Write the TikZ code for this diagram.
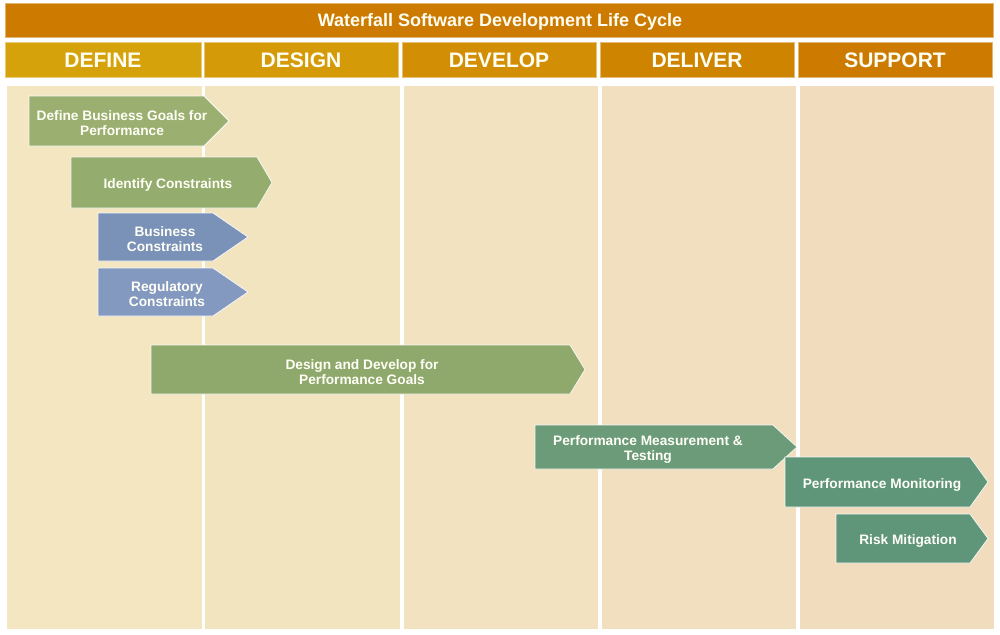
\documentclass[tikz,border=0pt]{standalone}
\usepackage{fontspec}
\setmainfont{Liberation Sans}
\definecolor{titleC}{HTML}{CC7A00}
\definecolor{hA}{HTML}{D5A20C}
\definecolor{hB}{HTML}{D49A08}
\definecolor{hC}{HTML}{D28E04}
\definecolor{hD}{HTML}{CF8400}
\definecolor{hE}{HTML}{CC7B00}
\definecolor{bA}{HTML}{F3E6C1}
\definecolor{bB}{HTML}{F3E4C0}
\definecolor{bC}{HTML}{F2E2BF}
\definecolor{bD}{HTML}{F2DFBF}
\definecolor{bE}{HTML}{F2DCBE}
\definecolor{gA}{HTML}{9AAF70}
\definecolor{gB}{HTML}{94AC6D}
\definecolor{blA}{HTML}{7A91B8}
\definecolor{blB}{HTML}{8399C0}
\definecolor{gC}{HTML}{8FA96C}
\definecolor{tA}{HTML}{6C9B79}
\definecolor{tB}{HTML}{5F9578}
\newcommand{\wfchev}[9]{%
  \fill[chevshape=#7] (#2,#3) -- (#4,#3) -- (#5,{(#3+#6)/2}) -- (#4,#6) -- (#2,#6) -- cycle;
  \node[chevtext] (#1) at (#9,{(#3+#6)/2}) {#8};
}
\begin{document}
\begin{tikzpicture}[x=1pt,y=-1pt,
  titlebar/.style={fill=titleC,draw=titleC!55!white,line width=0.8pt},
  colhead/.style={draw=#1!55!white,line width=0.8pt,fill=#1},
  colbody/.style={fill=#1},
  chevshape/.style={fill=#1,draw=white!92!#1,line width=0.8pt},
  chevtext/.style={text=white!97!yellow,font=\bfseries\fontsize{13.7}{15}\selectfont,align=center,inner sep=0pt,yshift=-2.5pt},
  headtext/.style={text=white!95!yellow,font=\bfseries\fontsize{21}{24}\selectfont,inner sep=0pt,yshift=-0.5pt},
  titletext/.style={text=white!95!yellow,font=\bfseries\fontsize{18}{20}\selectfont,inner sep=0pt,yshift=-2pt}]
\useasboundingbox[fill=white] (0,0) rectangle (1000,634);
% title
\draw[titlebar] (5,3) rectangle (993,37);
\node[titletext] (title) at (500,20) {Waterfall Software Development Life Cycle};
% column headers
\draw[colhead=hA] (5,42) rectangle (201,77);
\draw[colhead=hB] (204,42) rectangle (398,77);
\draw[colhead=hC] (402,42) rectangle (596,77);
\draw[colhead=hD] (600,42) rectangle (794,77);
\draw[colhead=hE] (798,42) rectangle (992,77);
\node[headtext] (define) at (103,60) {DEFINE};
\node[headtext] (design) at (301,60) {DESIGN};
\node[headtext] (develop) at (499,60) {DEVELOP};
\node[headtext] (deliver) at (697,60) {DELIVER};
\node[headtext] (support) at (895,60) {SUPPORT};
% column bodies
\fill[colbody=bA] (7,86) rectangle (202,629);
\fill[colbody=bB] (205,86) rectangle (400,629);
\fill[colbody=bC] (404,86) rectangle (598,629);
\fill[colbody=bD] (602,86) rectangle (796,629);
\fill[colbody=bE] (800,86) rectangle (994,629);
% chevrons
\wfchev{goals}{29}{96}{204}{229}{146}{gA}{Define Business Goals for\\Performance}{122}
\wfchev{constr}{71}{157}{257}{272}{208}{gB}{Identify Constraints}{168}
\wfchev{busc}{98}{213}{213}{248}{261}{blA}{Business\\Constraints}{165}
\wfchev{regc}{98}{268}{213}{248}{316}{blB}{Regulatory\\Constraints}{167}
\wfchev{dd}{151}{345}{570}{585}{394}{gC}{Design and Develop for\\Performance Goals}{362}
\wfchev{meas}{535}{425}{773}{797}{469}{tA}{Performance Measurement \&\\Testing}{648}
\wfchev{mon}{785}{457}{970}{988}{507}{tB}{Performance Monitoring}{882}
\wfchev{risk}{836}{514}{970}{988}{563}{tB}{Risk Mitigation}{908}
\end{tikzpicture}
\end{document}
